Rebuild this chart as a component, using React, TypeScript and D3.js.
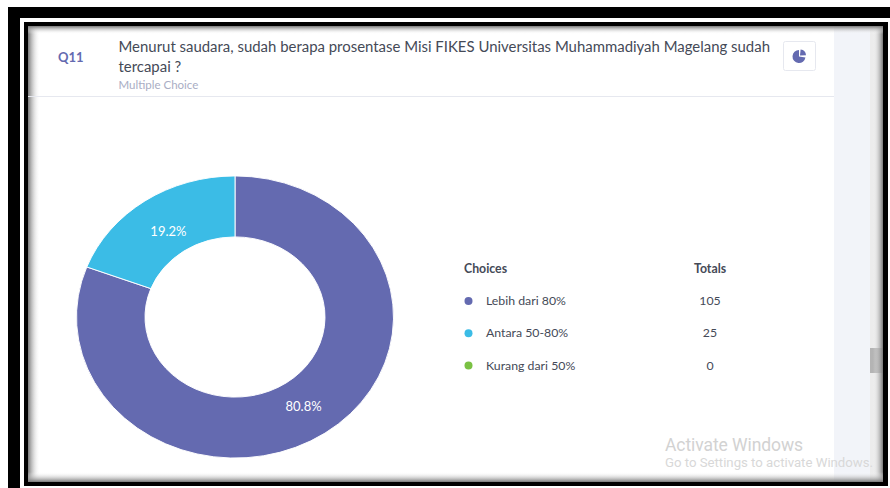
import React from 'react';
import * as d3 from 'd3';

const choices = ['Lebih dari 80%', 'Antara 50-80%', 'Kurang dari 50%'];
const totals = [105, 25, 0];
const colors = ['#646ab0', '#3bbce6', '#7ac143'];
const sliceLabels = ['80.8%', '19.2%', ''];

const W = 890, H = 488;
const cx = 235, cy = 317, outerR = 158.5, innerR = 90, labelR = 119, squash = 0.89;

export default function App() {
  const pie = d3.pie<number>().sort(null).value(d => d);
  const arcs = pie(totals);
  const arc = d3.arc<d3.PieArcDatum<number>>().innerRadius(innerR).outerRadius(outerR);
  const labelArc = d3.arc<d3.PieArcDatum<number>>().innerRadius(labelR).outerRadius(labelR);
  const rowY = d3.scalePoint<string>().domain(choices).range([301, 365.5]);
  const font = 'Lato, sans-serif';
  return (
    <svg width={W} height={H} viewBox={`0 0 ${W} ${H}`} style={{ position: 'absolute', left: 0, top: 0, background: '#fff' }} fontFamily={font}>
      <defs>
        <linearGradient id="sl" x1="0" x2="1" y1="0" y2="0"><stop offset="0" stopColor="#777" /><stop offset="1" stopColor="#fff" stopOpacity="0" /></linearGradient>
        <linearGradient id="sr" x1="1" x2="0" y1="0" y2="0"><stop offset="0" stopColor="#777" /><stop offset="1" stopColor="#fff" stopOpacity="0" /></linearGradient>
        <linearGradient id="st" x1="0" x2="0" y1="0" y2="1"><stop offset="0" stopColor="#777" /><stop offset="1" stopColor="#fff" stopOpacity="0" /></linearGradient>
        <linearGradient id="sb" x1="0" x2="0" y1="1" y2="0"><stop offset="0" stopColor="#777" /><stop offset="1" stopColor="#fff" stopOpacity="0" /></linearGradient>
      </defs>
      {/* outer frame */}
      <rect x={8} y={7} width={882} height={481} fill="#000" />
      <rect x={20} y={18} width={870} height={470} fill="#fff" />
      <rect x={24} y={22} width={864} height={464} fill="#000" />
      {/* page */}
      <rect x={28} y={26} width={855} height={456} fill="#fff" />
      <rect x={834} y={26} width={36} height={456} fill="#f2f4f9" />
      <rect x={870} y={26} width={13} height={456} fill="#ececec" />
      <rect x={870} y={348} width={13} height={25} fill="#b4b4b4" />
      {/* inner shadows */}
      <rect x={28} y={26} width={12} height={456} fill="url(#sl)" />
      <rect x={873} y={26} width={10} height={456} fill="url(#sr)" />
      <rect x={28} y={26} width={855} height={8} fill="url(#st)" />
      <rect x={28} y={472} width={855} height={10} fill="url(#sb)" />

      {/* header */}
      <text x={58} y={62} fontSize={13} fontWeight={700} fill="#646ab0">Q11</text>
      <text x={118.5} y={52} fontSize={14.93} fill="#454a57">Menurut saudara, sudah berapa prosentase Misi FIKES Universitas Muhammadiyah Magelang sudah</text>
      <text x={118.5} y={72} fontSize={14.93} fill="#454a57">tercapai ?</text>
      <text x={118.5} y={89} fontSize={11.5} fill="#a9adc4">Multiple Choice</text>
      <line x1={28} x2={834} y1={96.5} y2={96.5} stroke="#e6e8ef" />
      <rect x={783.5} y={41.5} width={32} height={29} rx={2} fill="#fff" stroke="#e6e8ef" />
      <g transform="translate(799.5,56)">
        <path d={d3.arc()({ innerRadius: 0, outerRadius: 6.5, startAngle: Math.PI / 2 + 0.15, endAngle: Math.PI * 2 }) ?? ''} fill="#646ab0" transform="translate(-0.5,0.5)" />
        <path d={d3.arc()({ innerRadius: 0, outerRadius: 6, startAngle: 0.1, endAngle: Math.PI / 2 - 0.05 }) ?? ''} fill="#646ab0" transform="translate(0.5,-0.5)" />
      </g>

      {/* donut */}
      <g transform={`translate(${cx},${cy}) scale(1,${squash})`}>
        {arcs.map((a, i) => totals[i] > 0 && (
          <path key={choices[i]} d={arc(a) ?? ''} fill={colors[i]} stroke="#fff" strokeWidth={1} />
        ))}
      </g>
      <g transform={`translate(${cx + 1},${cy + 1.5})`}>
        {arcs.map((a, i) => {
          if (totals[i] === 0) return null;
          const [x, y] = labelArc.centroid(a);
          return <text key={choices[i]} x={x} y={y * squash} textAnchor="middle" dominantBaseline="central" fontSize={13} fill="#fff">{sliceLabels[i]}</text>;
        })}
      </g>

      {/* legend */}
      <text x={464} y={273} fontSize={12.3} fontWeight={700} fill="#454a57">Choices</text>
      <text x={694} y={273} fontSize={12.3} fontWeight={700} fill="#454a57">Totals</text>
      {choices.map((c, i) => {
        const y = rowY(c) ?? 0;
        return (
          <g key={c}>
            <circle cx={468.5} cy={y} r={4} fill={colors[i]} />
            <text x={486} y={y + 4} fontSize={12.3} fill="#454a57">{c}</text>
            <text x={710} y={y + 4} fontSize={12.3} textAnchor="middle" fill="#454a57">{totals[i]}</text>
          </g>
        );
      })}

      {/* watermark */}
      <text x={665} y={450.5} fontSize={17.5} fontFamily="Roboto, sans-serif" fill="#d2d2d2" textLength={138}>Activate Windows</text>
      <text x={665} y={467} fontSize={13.2} fontFamily="Roboto, sans-serif" fill="#d8d8d8" textLength={208}>Go to Settings to activate Windows.</text>
    </svg>
  );
}
